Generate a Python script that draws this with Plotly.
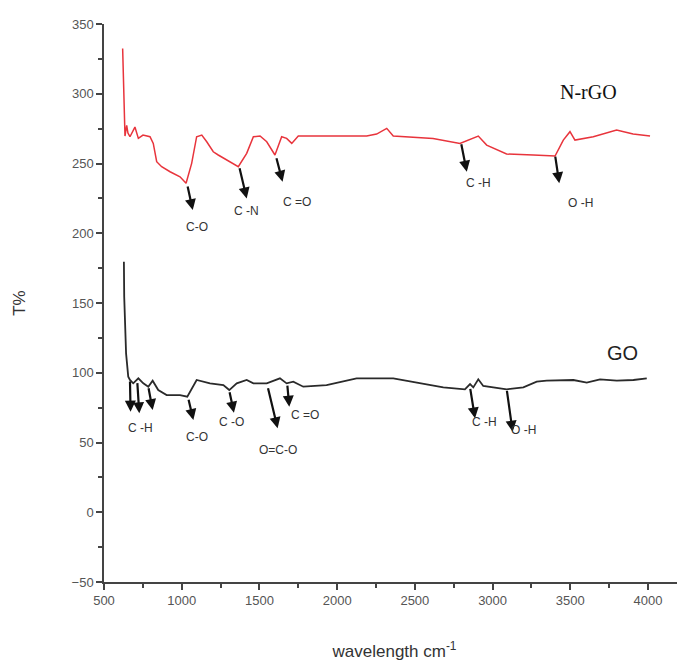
import plotly.graph_objects as go

# ---------------- data ----------------
nrgo_wn = [620, 629, 635, 646, 654, 667, 699, 721, 751, 796, 817, 839, 871, 925, 989, 1028,
           1064, 1096, 1129, 1161, 1203, 1235, 1289, 1364, 1418, 1461, 1504, 1547, 1600, 1643,
           1675, 1708, 1750, 2190, 2254, 2319, 2361, 2617, 2790, 2908, 2962, 3090, 3262, 3402,
           3455, 3498, 3530, 3648, 3798, 3904, 4013]
nrgo_t = [332.5, 286, 269.7, 277.3, 271.8, 269.2, 276.1, 268, 270.4, 269.2, 264.4, 251.3, 247.7,
          244.1, 240.5, 235.8, 250.1, 269.2, 270.4, 265.6, 258.4, 256.1, 252.5, 247.7, 257.3,
          269.2, 269.7, 265.6, 256.1, 269.2, 268.0, 264.4, 269.7, 269.7, 271.1, 275.2, 269.7,
          268, 264.4, 269.7, 263.2, 256.8, 256.1, 255.4, 266.8, 272.8, 266.8, 269.2, 274,
          271.1, 269.7]

go_wn = [628, 630, 642, 656, 667, 688, 721, 753, 785, 813, 849, 903, 989, 1036, 1096, 1182,
         1268, 1306, 1354, 1418, 1461, 1547, 1632, 1675, 1718, 1782, 1932, 2125, 2361, 2533,
         2683, 2822, 2855, 2876, 2908, 2940, 3091, 3198, 3284, 3348, 3520, 3606, 3691, 3799,
         3906, 3992]
go_t = [179.6, 154.5, 113.9, 97.2, 94.8, 92.4, 96, 92.4, 90, 94.3, 87.6, 84, 84, 82.8, 94.8,
        92.4, 91.2, 87.6, 92.4, 94.8, 92.4, 92.4, 96, 92.4, 93.6, 90, 91.2, 96, 96, 92.4, 89.5,
        88.1, 91.9, 89.5, 95.3, 90.5, 88.1, 89.5, 93.6, 94.4, 94.8, 92.9, 95.3, 94.4, 94.8, 96]

# arrows: (tail_x, tail_y, head_x, head_y)
arrows = [
    (1036, 234.6, 1071, 216.6), (1370, 247.7, 1418, 225), (1607, 254.9, 1649, 237),
    (2797, 264.9, 2834, 244.1), (3402, 256, 3429, 235.8),
    (667, 94.8, 671, 72.1), (714, 93.6, 727, 70.9), (785, 90, 813, 73.3),
    (1042, 81.7, 1075, 66.1), (1306, 87.1, 1336, 71.4), (1553, 90, 1617, 60.2),
    (1679, 91.9, 1692, 75.7), (2855, 89.5, 2887, 67.3), (3091, 88.1, 3129, 57.7),
]
# band labels: (text, x, y)
band_labels = [
    ("C-O", 1096, 204.7), ("C -N", 1418, 216), ("C =O", 1740, 222.6),
    ("C -H", 2908, 235.8), ("O -H", 3563, 221.4),
    ("C -H", 732, 60.2), ("C-O", 1096, 54.2), ("C -O", 1322, 64.9), ("O=C-O", 1621, 44.6),
    ("C =O", 1793, 69.7), ("C -H", 2951, 64.9), ("O -H", 3198, 59),
]
series_labels = [("N-rGO", 3614, 301, "Liberation Serif", "#111"),
                 ("GO", 3839, 114, "Liberation Sans", "#222")]

x_ticks = [500, 1000, 1500, 2000, 2500, 3000, 3500, 4000]
y_ticks = [-50, 0, 50, 100, 150, 200, 250, 300, 350]

# ---------------- figure ----------------
fig = go.Figure()
fig.add_trace(go.Scatter(x=nrgo_wn, y=nrgo_t, mode="lines",
                         line=dict(color="#e8343c", width=1.5), showlegend=False))
fig.add_trace(go.Scatter(x=go_wn, y=go_t, mode="lines",
                         line=dict(color="#2a2a2a", width=1.8), showlegend=False))

ann = []
for tx, ty, hx, hy in arrows:
    ann.append(dict(x=hx, y=hy, ax=tx, ay=ty, xref="x", yref="y", axref="x", ayref="y",
                    text="", showarrow=True, arrowhead=2, arrowsize=1, arrowwidth=2.2,
                    arrowcolor="#111"))
for t, x, y in band_labels:
    ann.append(dict(x=x, y=y, xref="x", yref="y", text=t, showarrow=False,
                    font=dict(family="Liberation Sans", size=12, color="#333")))
for t, x, y, fam, col in series_labels:
    ann.append(dict(x=x, y=y, xref="x", yref="y", text=t, showarrow=False,
                    font=dict(family=fam, size=20, color=col)))

axis_common = dict(showgrid=False, zeroline=False, showline=True, linecolor="#444",
                   linewidth=1.5, ticks="outside", ticklen=6, tickwidth=1.5, tickcolor="#444",
                   tickfont=dict(family="Liberation Sans", size=13, color="#555"))

fig.update_layout(
    width=685, height=666,
    margin=dict(l=96, r=8, t=16, b=92),
    plot_bgcolor="white", paper_bgcolor="white",
    annotations=ann,
    xaxis=dict(range=[500, 4238], tickvals=x_ticks,
               minor=dict(dtick=250, tick0=500, ticks="outside", ticklen=4, tickcolor="#444"),
               title=dict(text="wavelength cm<sup>-1</sup>", standoff=38,
                          font=dict(family="Liberation Sans", size=17, color="#333")),
               **axis_common),
    yaxis=dict(range=[-50, 350], tickvals=y_ticks,
               minor=dict(dtick=25, tick0=-50, ticks="outside", ticklen=4, tickcolor="#444"),
               title=dict(text="T%", standoff=42,
                          font=dict(family="Liberation Sans", size=17, color="#333")),
               **axis_common),
)

fig.write_html("out.html")
